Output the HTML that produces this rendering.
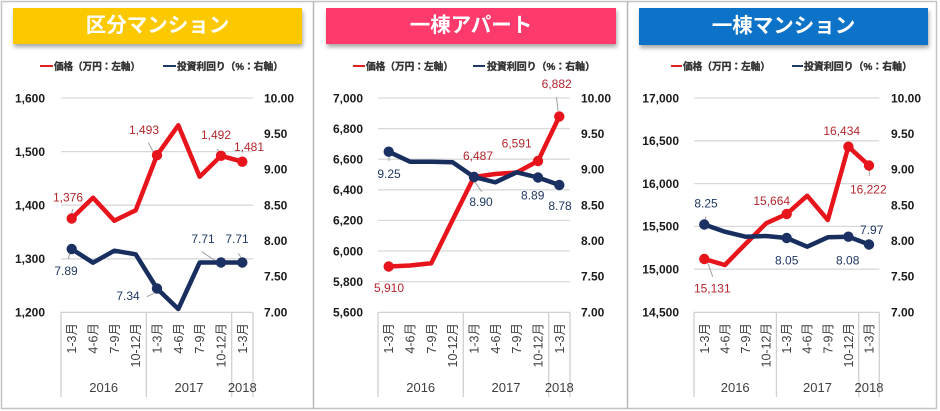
<!DOCTYPE html>
<html><head><meta charset="utf-8"><style>
html,body{margin:0;padding:0;background:#fff;}
svg{display:block;}
text{font-family:"Liberation Sans","Noto Sans CJK JP",sans-serif;}
.ax{font-size:12px;font-weight:bold;fill:#1a1a1a;}
.axl{text-anchor:end;}
.cat{font-size:12.5px;fill:#404040;text-anchor:end;}
.yr{font-size:13px;fill:#404040;text-anchor:middle;}
.lg{font-size:10px;font-weight:bold;fill:#333;stroke:#333;stroke-width:0.35;font-family:"Liberation Sans","Noto Sans CJK JP",sans-serif;}
.tt{font-size:20.5px;font-weight:bold;fill:#fff;text-anchor:middle;font-family:"Noto Sans CJK JP",sans-serif;}
.rl{font-size:12px;fill:#b3262c;text-anchor:middle;}
.bl{font-size:12px;fill:#1f3864;text-anchor:middle;}
.grid{stroke:#d9d9d9;stroke-width:1.3;}
.vl{stroke:#d0d0d0;stroke-width:1.3;}
.ld{stroke:#a0a0a0;stroke-width:1;}
.red{fill:none;stroke:#e8141c;stroke-width:4.5;stroke-linejoin:round;}
.blue{fill:none;stroke:#172e5e;stroke-width:4.5;stroke-linejoin:round;}
.rm{fill:#e8141c;}
.bm{fill:#1b3163;}
</style></head><body>
<svg width="940" height="411" viewBox="0 0 940 411">
<defs><filter id="sh" x="-5%" y="-20%" width="110%" height="160%"><feDropShadow dx="1" dy="3" stdDeviation="2" flood-color="#000" flood-opacity="0.35"/></filter></defs>
<rect x="0" y="0" width="940" height="411" fill="#fff"/>
<rect x="1.5" y="1.5" width="935" height="407" fill="none" stroke="#c4c4c4" stroke-width="1.5"/>
<line x1="313.5" y1="1" x2="313.5" y2="409" stroke="#b8b8b8" stroke-width="1.5"/>
<line x1="627.5" y1="1" x2="627.5" y2="409" stroke="#b8b8b8" stroke-width="1.5"/>

<!-- ============ PANEL 1 ============ -->
<rect x="13" y="8" width="289" height="36" fill="#fcc800" filter="url(#sh)"/>
<text class="tt" x="157.5" y="32">区分マンション</text>
<line x1="40" y1="66" x2="53" y2="66" stroke="#e0201e" stroke-width="2"/>
<text class="lg" x="54" y="70" textLength="86" lengthAdjust="spacingAndGlyphs">価格（万円：左軸）</text>
<line x1="163" y1="66" x2="176" y2="66" stroke="#1f3864" stroke-width="2"/>
<text class="lg" x="177" y="70" textLength="106" lengthAdjust="spacingAndGlyphs">投資利回り（%：右軸）</text>

<line class="grid" x1="61" y1="98" x2="253" y2="98"/>
<line class="grid" x1="61" y1="151.6" x2="253" y2="151.6"/>
<line class="grid" x1="61" y1="205.2" x2="253" y2="205.2"/>
<line class="grid" x1="61" y1="258.8" x2="253" y2="258.8"/>
<line class="vl" x1="61" y1="312.4" x2="253" y2="312.4"/>

<text class="ax axl" x="45" y="102.3">1,600</text>
<text class="ax axl" x="45" y="155.9">1,500</text>
<text class="ax axl" x="45" y="209.5">1,400</text>
<text class="ax axl" x="45" y="263.1">1,300</text>
<text class="ax axl" x="45" y="316.7">1,200</text>

<text class="ax" x="264" y="102.3">10.00</text>
<text class="ax" x="264" y="138">9.50</text>
<text class="ax" x="264" y="173.6">9.00</text>
<text class="ax" x="264" y="209.3">8.50</text>
<text class="ax" x="264" y="245">8.00</text>
<text class="ax" x="264" y="280.6">7.50</text>
<text class="ax" x="264" y="316.3">7.00</text>

<line class="vl" x1="61" y1="312.4" x2="61" y2="397"/>
<line class="vl" x1="146.3" y1="312.4" x2="146.3" y2="397"/>
<line class="vl" x1="231.7" y1="312.4" x2="231.7" y2="397"/>
<line class="vl" x1="253" y1="312.4" x2="253" y2="397"/>

<text class="cat" transform="translate(76.2,323) rotate(-90)">1-3月</text>
<text class="cat" transform="translate(97.5,323) rotate(-90)">4-6月</text>
<text class="cat" transform="translate(118.8,323) rotate(-90)">7-9月</text>
<text class="cat" transform="translate(140.2,323) rotate(-90)">10-12月</text>
<text class="cat" transform="translate(161.5,323) rotate(-90)">1-3月</text>
<text class="cat" transform="translate(182.8,323) rotate(-90)">4-6月</text>
<text class="cat" transform="translate(204.2,323) rotate(-90)">7-9月</text>
<text class="cat" transform="translate(225.5,323) rotate(-90)">10-12月</text>
<text class="cat" transform="translate(246.8,323) rotate(-90)">1-3月</text>
<text class="yr" x="103.7" y="392">2016</text>
<text class="yr" x="189" y="392">2017</text>
<text class="yr" x="242.3" y="392">2018</text>

<line class="ld" x1="72.7" y1="209" x2="71" y2="217"/>
<line class="ld" x1="148.3" y1="142.7" x2="154" y2="153"/>
<line class="ld" x1="217.3" y1="149" x2="220.5" y2="154"/>
<line class="ld" x1="70" y1="253" x2="68.3" y2="259"/>
<line class="ld" x1="146.7" y1="296.7" x2="154" y2="293.3"/>
<line class="ld" x1="201.7" y1="251.7" x2="216.7" y2="261.7"/>
<line class="ld" x1="238.3" y1="253.3" x2="240.7" y2="257"/>

<polyline class="red" points="71.7,218.5 93,197.7 114.3,220.7 135.7,210.3 157,155.2 178.3,125.3 199.7,176.7 221,155.8 242.3,161.7"/>
<circle class="rm" cx="71.7" cy="218.5" r="5.2"/>
<circle class="rm" cx="157" cy="155.2" r="5.2"/>
<circle class="rm" cx="221" cy="155.8" r="5.2"/>
<circle class="rm" cx="242.3" cy="161.7" r="5.2"/>
<polyline class="blue" points="71.7,249 93,262.7 114.3,250.7 135.7,254.3 157,288.5 178.3,309 199.7,262.5 221,262.5 242.3,262.5"/>
<circle class="bm" cx="71.7" cy="249" r="5.2"/>
<circle class="bm" cx="157" cy="288.5" r="5.2"/>
<circle class="bm" cx="221" cy="262.5" r="5.2"/>
<circle class="bm" cx="242.3" cy="262.5" r="5.2"/>

<text class="rl" x="68" y="201.5">1,376</text>
<text class="rl" x="144" y="134">1,493</text>
<text class="rl" x="216" y="139">1,492</text>
<text class="rl" x="249" y="151">1,481</text>
<text class="bl" x="66" y="275">7.89</text>
<text class="bl" x="128" y="300">7.34</text>
<text class="bl" x="203" y="243">7.71</text>
<text class="bl" x="237" y="243">7.71</text>

<!-- ============ PANEL 2 ============ -->
<rect x="326" y="8" width="290" height="36" fill="#fc3a6c" filter="url(#sh)"/>
<text class="tt" x="471" y="32">一棟アパート</text>
<line x1="353" y1="66" x2="365" y2="66" stroke="#e0201e" stroke-width="2"/>
<text class="lg" x="366" y="70" textLength="87" lengthAdjust="spacingAndGlyphs">価格（万円：左軸）</text>
<line x1="473" y1="66" x2="485" y2="66" stroke="#1f3864" stroke-width="2"/>
<text class="lg" x="487" y="70" textLength="108" lengthAdjust="spacingAndGlyphs">投資利回り（%：右軸）</text>

<line class="grid" x1="378" y1="98" x2="570" y2="98"/>
<line class="grid" x1="378" y1="128.6" x2="570" y2="128.6"/>
<line class="grid" x1="378" y1="159.2" x2="570" y2="159.2"/>
<line class="grid" x1="378" y1="189.8" x2="570" y2="189.8"/>
<line class="grid" x1="378" y1="220.4" x2="570" y2="220.4"/>
<line class="grid" x1="378" y1="251" x2="570" y2="251"/>
<line class="grid" x1="378" y1="281.6" x2="570" y2="281.6"/>
<line class="vl" x1="378" y1="312.4" x2="570" y2="312.4"/>

<text class="ax axl" x="363" y="102.3">7,000</text>
<text class="ax axl" x="363" y="132.9">6,800</text>
<text class="ax axl" x="363" y="163.5">6,600</text>
<text class="ax axl" x="363" y="194.1">6,400</text>
<text class="ax axl" x="363" y="224.7">6,200</text>
<text class="ax axl" x="363" y="255.3">6,000</text>
<text class="ax axl" x="363" y="285.9">5,800</text>
<text class="ax axl" x="363" y="316.5">5,600</text>

<text class="ax" x="581" y="102.3">10.00</text>
<text class="ax" x="581" y="138">9.50</text>
<text class="ax" x="581" y="173.6">9.00</text>
<text class="ax" x="581" y="209.3">8.50</text>
<text class="ax" x="581" y="245">8.00</text>
<text class="ax" x="581" y="280.6">7.50</text>
<text class="ax" x="581" y="316.3">7.00</text>

<line class="vl" x1="378" y1="312.4" x2="378" y2="397"/>
<line class="vl" x1="463.3" y1="312.4" x2="463.3" y2="397"/>
<line class="vl" x1="548.7" y1="312.4" x2="548.7" y2="397"/>
<line class="vl" x1="570" y1="312.4" x2="570" y2="397"/>

<text class="cat" transform="translate(393.2,323) rotate(-90)">1-3月</text>
<text class="cat" transform="translate(414.5,323) rotate(-90)">4-6月</text>
<text class="cat" transform="translate(435.8,323) rotate(-90)">7-9月</text>
<text class="cat" transform="translate(457.2,323) rotate(-90)">10-12月</text>
<text class="cat" transform="translate(478.5,323) rotate(-90)">1-3月</text>
<text class="cat" transform="translate(499.8,323) rotate(-90)">4-6月</text>
<text class="cat" transform="translate(521.2,323) rotate(-90)">7-9月</text>
<text class="cat" transform="translate(542.5,323) rotate(-90)">10-12月</text>
<text class="cat" transform="translate(563.8,323) rotate(-90)">1-3月</text>
<text class="yr" x="420.7" y="392">2016</text>
<text class="yr" x="506" y="392">2017</text>
<text class="yr" x="559.3" y="392">2018</text>

<line class="ld" x1="556.5" y1="97" x2="558" y2="111"/>
<line class="ld" x1="389" y1="153" x2="389" y2="161"/>
<line class="ld" x1="466.7" y1="170" x2="481.7" y2="191.7"/>

<polyline class="red" points="388.7,266.5 410,265.5 431.3,263.3 452.7,219.7 474,177 495.3,174 516.7,172.5 538,161 559.3,116.5"/>
<circle class="rm" cx="388.7" cy="266.5" r="5.2"/>
<circle class="rm" cx="474" cy="177" r="5.2"/>
<circle class="rm" cx="538" cy="161" r="5.2"/>
<circle class="rm" cx="559.3" cy="116.5" r="5.2"/>
<polyline class="blue" points="388.7,151.7 410,161.7 431.3,161.7 452.7,162.3 474,177 495.3,182.3 516.7,172.3 538,177.5 559.3,185"/>
<circle class="bm" cx="388.7" cy="151.7" r="5.2"/>
<circle class="bm" cx="474" cy="177" r="5.2"/>
<circle class="bm" cx="538" cy="177.5" r="5.2"/>
<circle class="bm" cx="559.3" cy="185" r="5.2"/>

<text class="rl" x="556.7" y="88">6,882</text>
<text class="rl" x="516.7" y="147.3">6,591</text>
<text class="rl" x="478" y="160">6,487</text>
<text class="rl" x="389" y="292">5,910</text>
<text class="bl" x="389" y="178">9.25</text>
<text class="bl" x="481" y="206">8.90</text>
<text class="bl" x="532.7" y="199.7">8.89</text>
<text class="bl" x="560" y="210">8.78</text>

<!-- ============ PANEL 3 ============ -->
<rect x="639" y="8" width="289" height="37" fill="#0d73c8" filter="url(#sh)"/>
<text class="tt" x="783.5" y="32.5">一棟マンション</text>
<line x1="671" y1="66" x2="682" y2="66" stroke="#e0201e" stroke-width="2"/>
<text class="lg" x="683" y="70" textLength="87" lengthAdjust="spacingAndGlyphs">価格（万円：左軸）</text>
<line x1="792" y1="66" x2="803" y2="66" stroke="#1f3864" stroke-width="2"/>
<text class="lg" x="804" y="70" textLength="108" lengthAdjust="spacingAndGlyphs">投資利回り（%：右軸）</text>

<line class="grid" x1="694" y1="98" x2="879.3" y2="98"/>
<line class="grid" x1="694" y1="140.8" x2="879.3" y2="140.8"/>
<line class="grid" x1="694" y1="183.6" x2="879.3" y2="183.6"/>
<line class="grid" x1="694" y1="226.4" x2="879.3" y2="226.4"/>
<line class="grid" x1="694" y1="269.2" x2="879.3" y2="269.2"/>
<line class="vl" x1="694" y1="312.4" x2="879.3" y2="312.4"/>

<text class="ax axl" x="679" y="102.3">17,000</text>
<text class="ax axl" x="679" y="145.1">16,500</text>
<text class="ax axl" x="679" y="187.9">16,000</text>
<text class="ax axl" x="679" y="230.7">15,500</text>
<text class="ax axl" x="679" y="273.5">15,000</text>
<text class="ax axl" x="679" y="316.3">14,500</text>

<text class="ax" x="891" y="102.3">10.00</text>
<text class="ax" x="891" y="138">9.50</text>
<text class="ax" x="891" y="173.6">9.00</text>
<text class="ax" x="891" y="209.3">8.50</text>
<text class="ax" x="891" y="245">8.00</text>
<text class="ax" x="891" y="280.6">7.50</text>
<text class="ax" x="891" y="316.3">7.00</text>

<line class="vl" x1="694" y1="312.4" x2="694" y2="397"/>
<line class="vl" x1="776.4" y1="312.4" x2="776.4" y2="397"/>
<line class="vl" x1="858.7" y1="312.4" x2="858.7" y2="397"/>
<line class="vl" x1="879.3" y1="312.4" x2="879.3" y2="397"/>

<text class="cat" transform="translate(708.8,323) rotate(-90)">1-3月</text>
<text class="cat" transform="translate(729.4,323) rotate(-90)">4-6月</text>
<text class="cat" transform="translate(750,323) rotate(-90)">7-9月</text>
<text class="cat" transform="translate(770.6,323) rotate(-90)">10-12月</text>
<text class="cat" transform="translate(791.2,323) rotate(-90)">1-3月</text>
<text class="cat" transform="translate(811.7,323) rotate(-90)">4-6月</text>
<text class="cat" transform="translate(832.3,323) rotate(-90)">7-9月</text>
<text class="cat" transform="translate(852.9,323) rotate(-90)">10-12月</text>
<text class="cat" transform="translate(873.5,323) rotate(-90)">1-3月</text>
<text class="yr" x="735.2" y="392">2016</text>
<text class="yr" x="817.5" y="392">2017</text>
<text class="yr" x="869" y="392">2018</text>

<line class="ld" x1="707.3" y1="261.7" x2="712.7" y2="276.7"/>
<line class="ld" x1="869.3" y1="168" x2="869.3" y2="176"/>
<line class="ld" x1="706" y1="216.5" x2="704.3" y2="223"/>

<polyline class="red" points="704.3,259 724.9,265 745.5,244 766.1,223.3 786.7,214 807.2,195.7 827.8,220 848.4,146.7 869,165.5"/>
<circle class="rm" cx="704.3" cy="259" r="5.2"/>
<circle class="rm" cx="786.7" cy="214" r="5.2"/>
<circle class="rm" cx="848.4" cy="146.7" r="5.2"/>
<circle class="rm" cx="869" cy="165.5" r="5.2"/>
<polyline class="blue" points="704.3,224.5 724.9,231.7 745.5,236.7 766.1,236 786.7,238 807.2,246.7 827.8,237.3 848.4,236.7 869,244.5"/>
<circle class="bm" cx="704.3" cy="224.5" r="5.2"/>
<circle class="bm" cx="786.7" cy="238" r="5.2"/>
<circle class="bm" cx="848.4" cy="236.7" r="5.2"/>
<circle class="bm" cx="869" cy="244.5" r="5.2"/>

<text class="rl" x="841.7" y="135">16,434</text>
<text class="rl" x="868.3" y="193.3">16,222</text>
<text class="rl" x="771.7" y="205">15,664</text>
<text class="rl" x="712.3" y="292.3">15,131</text>
<text class="bl" x="706" y="207.3">8.25</text>
<text class="bl" x="786.7" y="264.7">8.05</text>
<text class="bl" x="847.7" y="264.7">8.08</text>
<text class="bl" x="871.7" y="234">7.97</text>
</svg>
</body></html>
